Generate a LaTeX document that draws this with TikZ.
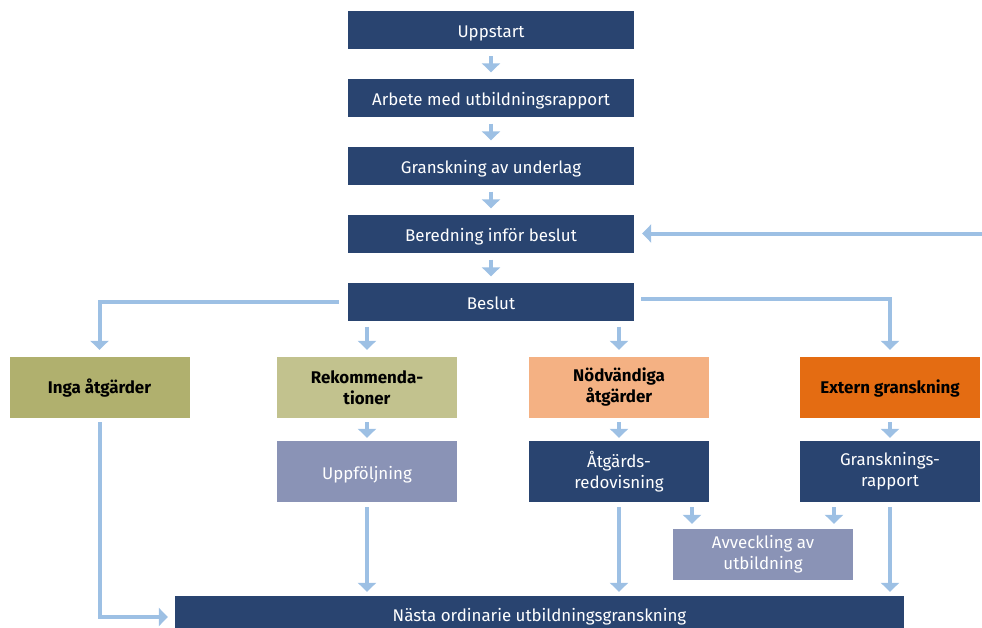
\documentclass[tikz,border=0pt]{standalone}
\usepackage{fontspec}
\setmainfont{Fira Sans}
\usetikzlibrary{arrows.meta}
\definecolor{navy}{RGB}{41,68,112}
\definecolor{pilbla}{RGB}{157,192,228}
\definecolor{olivmork}{RGB}{176,176,110}
\definecolor{olivljus}{RGB}{194,194,142}
\definecolor{persika}{RGB}{244,177,131}
\definecolor{extorange}{RGB}{228,108,18}
\definecolor{gralila}{RGB}{138,147,182}
\begin{document}
\begin{tikzpicture}[x=1pt,y=-1pt,
    steg/.style={fill=navy,text=white,minimum width=286pt,minimum height=38pt,inner sep=0pt,
      text height=15.5pt,text depth=0pt,font=\fontsize{16.9}{21}\selectfont},
    utfall/.style={minimum width=180pt,minimum height=61pt,inner sep=0pt,align=center,
      font=\fontsize{16.9}{21}\selectfont\bfseries},
    folj/.style={text=white,minimum width=180pt,minimum height=61pt,inner sep=0pt,align=center,
      font=\fontsize{16.9}{21}\selectfont},
    pil/.style={draw=pilbla,line width=4pt,-{Triangle[width=18pt,length=9pt]},
      shorten <=6pt,shorten >=6pt}]
  \useasboundingbox (0,0) rectangle (982,627);

  % huvudflödet
  \node[steg] (uppstart) at (491,30) {Uppstart};
  \node[steg] (arbete) at (491,97.5) {Arbete med utbildningsrapport};
  \node[steg] (granskning) at (491,165.5) {Granskning av underlag};
  \node[steg] (beredning) at (491,233.5) {Beredning inför beslut};
  \node[steg] (beslut) at (491,301.5) {Beslut};
  \coordinate (hoger) at (982,233.5);

  % utfall av beslutet
  \node[utfall,fill=olivmork,text height=11.6pt,text depth=0pt] (inga) at (99.5,387.5) {Inga åtgärder};
  \node[utfall,fill=olivljus] (rek) at (367,387.5) {Rekommenda-\\tioner};
  \node[utfall,fill=persika] (nodv) at (619,387.5) {Nödvändiga\\åtgärder};
  \node[utfall,fill=extorange,text height=11.6pt,text depth=0pt] (extern) at (890,387.5) {Extern granskning};

  % uppföljning
  \node[folj,fill=gralila,text height=15.5pt,text depth=0pt] (uppf) at (367,471.5) {Uppföljning};
  \node[folj,fill=navy] (atg) at (619,471.5) {Åtgärds-\\redovisning};
  \node[folj,fill=navy] (rapport) at (890,471.5) {Gransknings-\\rapport};
  \node[folj,fill=gralila,minimum height=51pt] (avv) at (763,554.5) {Avveckling av\\utbildning};
  \node[steg,minimum width=729pt,minimum height=36pt] (nasta) at (539.5,614) {Nästa ordinarie utbildningsgranskning};

  \draw[pil,shorten <=7pt] (uppstart) -- (arbete);
  \draw[pil,shorten <=7pt] (arbete) -- (granskning);
  \draw[pil,shorten <=7pt] (granskning) -- (beredning);
  \draw[pil,shorten <=7pt] (beredning) -- (beslut);
  \draw[pil,shorten <=0pt,shorten >=8pt] (hoger) -- (beredning);

  \draw[pil,shorten <=9pt,shorten >=7pt] (beslut.west) -| (inga.north);
  \draw[pil,shorten <=7pt,shorten >=7pt] ([yshift=3pt]beslut.east) -| (extern.north);
  \draw[pil,shorten >=7pt] (beslut.south -| rek.north) -- (rek.north);
  \draw[pil,shorten >=7pt] (beslut.south -| nodv.north) -- (nodv.north);

  \draw[pil,shorten <=4pt,shorten >=3pt] (rek) -- (uppf);
  \draw[pil,shorten <=4pt,shorten >=3pt] (nodv) -- (atg);
  \draw[pil,shorten <=4pt,shorten >=3pt] (extern) -- (rapport);

  \draw[pil,shorten <=5pt,shorten >=4pt] (uppf.south) -- (uppf.south |- nasta.north);
  \draw[pil,shorten <=5pt,shorten >=4pt] (atg.south) -- (atg.south |- nasta.north);
  \draw[pil,shorten <=5pt,shorten >=4pt] (rapport.south) -- (rapport.south |- nasta.north);
  \draw[pil,shorten <=5pt,shorten >=5pt] ([xshift=-71pt]avv.north |- atg.south) -- ([xshift=-71pt]avv.north);
  \draw[pil,shorten <=5pt,shorten >=5pt] ([xshift=71pt]avv.north |- atg.south) -- ([xshift=71pt]avv.north);
  \draw[pil,shorten <=4pt,shorten >=7pt] (inga.south) |- ([yshift=-3pt]nasta.west);
\end{tikzpicture}
\end{document}
